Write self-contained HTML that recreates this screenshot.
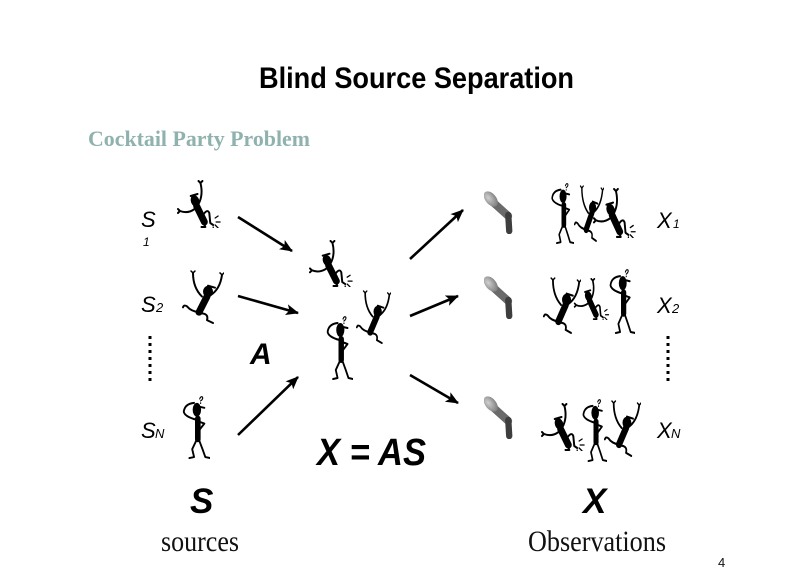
<!DOCTYPE html>
<html>
<head>
<meta charset="utf-8">
<style>
  html,body{margin:0;padding:0;background:#fff;}
  body{width:788px;height:580px;overflow:hidden;}
  svg{display:block;}
</style>
</head>
<body>
<svg width="788" height="580" viewBox="0 0 788 580" xmlns="http://www.w3.org/2000/svg">
  <defs>
    <marker id="ah" markerWidth="14" markerHeight="12" refX="12" refY="6" orient="auto" markerUnits="userSpaceOnUse">
      <path d="M0,0.5 L13,6 L0,11.5 L3,6 Z" fill="#000"/>
    </marker>
    <radialGradient id="mg" cx="40%" cy="35%" r="70%">
      <stop offset="0" stop-color="#d0d0d0"/>
      <stop offset="1" stop-color="#7a7a7a"/>
    </radialGradient>

    <!-- kicker figure -->
    <symbol id="kick" viewBox="0 0 48 48" preserveAspectRatio="none">
      <g fill="none" stroke="#000" stroke-width="2" stroke-linecap="round" stroke-linejoin="round">
        <path d="M4 31 Q12 34 19 29"/>
        <path d="M23 24 Q28 15 25 3"/>
        <path d="M25 3 L23 1 M25 3 L27 1"/>
        <path d="M4 31 L2 29 M4 31 L2 33"/>
        <path d="M21 26 L29 42" stroke-width="7"/>
        <path d="M27 36 Q32 28 34 33 L35 43 L38 45"/>
        <path d="M28 42 L30 47 L26 47"/>
        <path d="M40 38 L43 36 M41 42 L45 42 M40 45 L43 48 M38 47 L38 48" stroke-width="1.3"/>
        <path d="M15 16 L22 14" stroke-width="2"/>
      </g>
      <ellipse cx="19.5" cy="21" rx="4.3" ry="6" transform="rotate(-20 19.5 21)" fill="#000"/>
    </symbol>

    <!-- dancer figure -->
    <symbol id="dance" viewBox="0 0 42 56" preserveAspectRatio="none">
      <g fill="none" stroke="#000" stroke-width="2" stroke-linecap="round" stroke-linejoin="round">
        <path d="M11 3 Q11 18 20 27"/>
        <path d="M40 5 Q38 20 28 26"/>
        <path d="M11 3 L9 1 M11 3 L13 1 M40 5 L38 3 M40 5 L42 3" stroke-width="1.5"/>
        <path d="M25 27 L17 43" stroke-width="7"/>
        <path d="M17 43 Q9 42 5 37 Q2 35 1 38"/>
        <path d="M18 44 Q27 44 25 51 L31 54"/>
        <path d="M26 16 L33 18" stroke-width="2"/>
      </g>
      <ellipse cx="26" cy="22" rx="5" ry="5.8" fill="#000"/>
    </symbol>

    <!-- thinker figure -->
    <symbol id="think" viewBox="0 0 32 66" preserveAspectRatio="none">
      <g fill="none" stroke="#000" stroke-width="2" stroke-linecap="round" stroke-linejoin="round">
        <path d="M17 25 Q5 22 4 17 Q5 9 15 8"/>
        <path d="M19 45 L19 24" stroke-width="6"/>
        <path d="M20 27 L26 29 L21 35"/>
        <path d="M18 45 L13 55 L15 63 L10 64"/>
        <path d="M20 45 L24 55 L27 63 L32 64"/>
        <path d="M21 4 Q22 1 24 2 Q25 4 22 6 M22 8 L22 8.5" stroke-width="1.2"/>
        <path d="M21 12 L26 13" stroke-width="2"/>
      </g>
      <ellipse cx="18" cy="15" rx="4.5" ry="7" fill="#000"/>
    </symbol>

    <!-- microphone -->
    <symbol id="mic" viewBox="0 0 34 44" preserveAspectRatio="none">
      <path d="M9 12 L25 26" stroke="#6a6a6a" stroke-width="8" stroke-linecap="round"/>
      <path d="M25 25 L26 41" stroke="#3e3e3e" stroke-width="6.5" stroke-linecap="round"/>
      <ellipse cx="7" cy="9" rx="5.5" ry="9" transform="rotate(-42 7 9)" fill="url(#mg)"/>
    </symbol>
  </defs>

  <!-- title -->
  <text x="259" y="88" font-family="Liberation Sans, sans-serif" font-weight="bold" font-size="30" textLength="315" lengthAdjust="spacingAndGlyphs" fill="#000">Blind Source Separation</text>
  <text x="88" y="146" font-family="Liberation Serif, serif" font-weight="bold" font-size="22" textLength="222" lengthAdjust="spacingAndGlyphs" fill="#8fb2ae">Cocktail Party Problem</text>

  <!-- left labels -->
  <g font-family="Liberation Sans, sans-serif" font-style="italic" fill="#000">
    <text x="141" y="227" font-size="22">S</text>
    <text x="143" y="246" font-size="12">1</text>
    <text x="141" y="312" font-size="22">S</text>
    <text x="156" y="312" font-size="13">2</text>
    <text x="141" y="438" font-size="22">S</text>
    <text x="155" y="438" font-size="13">N</text>

    <text x="657" y="228" font-size="22">X</text>
    <text x="673" y="228" font-size="12">1</text>
    <text x="657" y="313" font-size="22">X</text>
    <text x="672" y="313" font-size="13">2</text>
    <text x="657" y="438" font-size="22">X</text>
    <text x="671" y="438" font-size="13">N</text>
  </g>

  <!-- dotted lines -->
  <line x1="150" y1="336" x2="150" y2="381" stroke="#000" stroke-width="3" stroke-dasharray="3,4"/>
  <line x1="668" y1="336" x2="668" y2="381" stroke="#000" stroke-width="3" stroke-dasharray="3,4"/>

  <!-- A and equation -->
  <g font-family="Liberation Sans, sans-serif" font-style="italic" font-weight="bold" fill="#000">
    <text x="250" y="364" font-size="30">A</text>
    <text x="317" y="465" font-size="38" textLength="109" lengthAdjust="spacingAndGlyphs">X = AS</text>
    <text x="190" y="513" font-size="35">S</text>
    <text x="583" y="513" font-size="35">X</text>
  </g>

  <!-- bottom captions -->
  <text x="161" y="551" font-family="Liberation Serif, serif" font-size="30" textLength="78" lengthAdjust="spacingAndGlyphs" fill="#111">sources</text>
  <text x="528" y="551" font-family="Liberation Serif, serif" font-size="30" textLength="138" lengthAdjust="spacingAndGlyphs" fill="#111">Observations</text>
  <text x="718" y="567" font-family="Liberation Sans, sans-serif" font-size="13" fill="#111">4</text>

  <!-- arrows -->
  <g stroke="#000" stroke-width="2.6" marker-end="url(#ah)">
    <line x1="238" y1="217" x2="292" y2="251"/>
    <line x1="238" y1="296" x2="298" y2="313"/>
    <line x1="238" y1="435" x2="298" y2="377"/>
    <line x1="410" y1="259" x2="463" y2="210"/>
    <line x1="410" y1="316" x2="458" y2="296"/>
    <line x1="410" y1="375" x2="458" y2="403"/>
  </g>

  <!-- left source figures -->
  <use href="#kick" x="176" y="180" width="47" height="48"/>
  <use href="#dance" x="182" y="270" width="42" height="55"/>
  <use href="#think" x="180" y="395" width="30" height="65"/>

  <!-- center mixture figures -->
  <use href="#kick" x="308" y="240" width="47" height="47"/>
  <use href="#dance" x="356" y="290" width="35" height="55"/>
  <use href="#think" x="324" y="315" width="29" height="66"/>

  <!-- microphones -->
  <use href="#mic" x="484" y="190" width="33" height="44"/>
  <use href="#mic" x="484" y="275" width="33" height="44"/>
  <use href="#mic" x="484" y="395" width="33" height="44"/>

  <!-- group 1 -->
  <use href="#think" x="549" y="182" width="25" height="63"/>
  <use href="#dance" x="574" y="185" width="30" height="58"/>
  <use href="#kick" x="592" y="188" width="46" height="50"/>

  <!-- group 2 -->
  <use href="#dance" x="543" y="277" width="38" height="58"/>
  <use href="#kick" x="573" y="278" width="38" height="42"/>
  <use href="#think" x="607" y="268" width="28" height="67"/>

  <!-- group 3 -->
  <use href="#kick" x="540" y="403" width="47" height="48"/>
  <use href="#think" x="580" y="398" width="27" height="65"/>
  <use href="#dance" x="604" y="400" width="37" height="58"/>
</svg>
</body>
</html>
